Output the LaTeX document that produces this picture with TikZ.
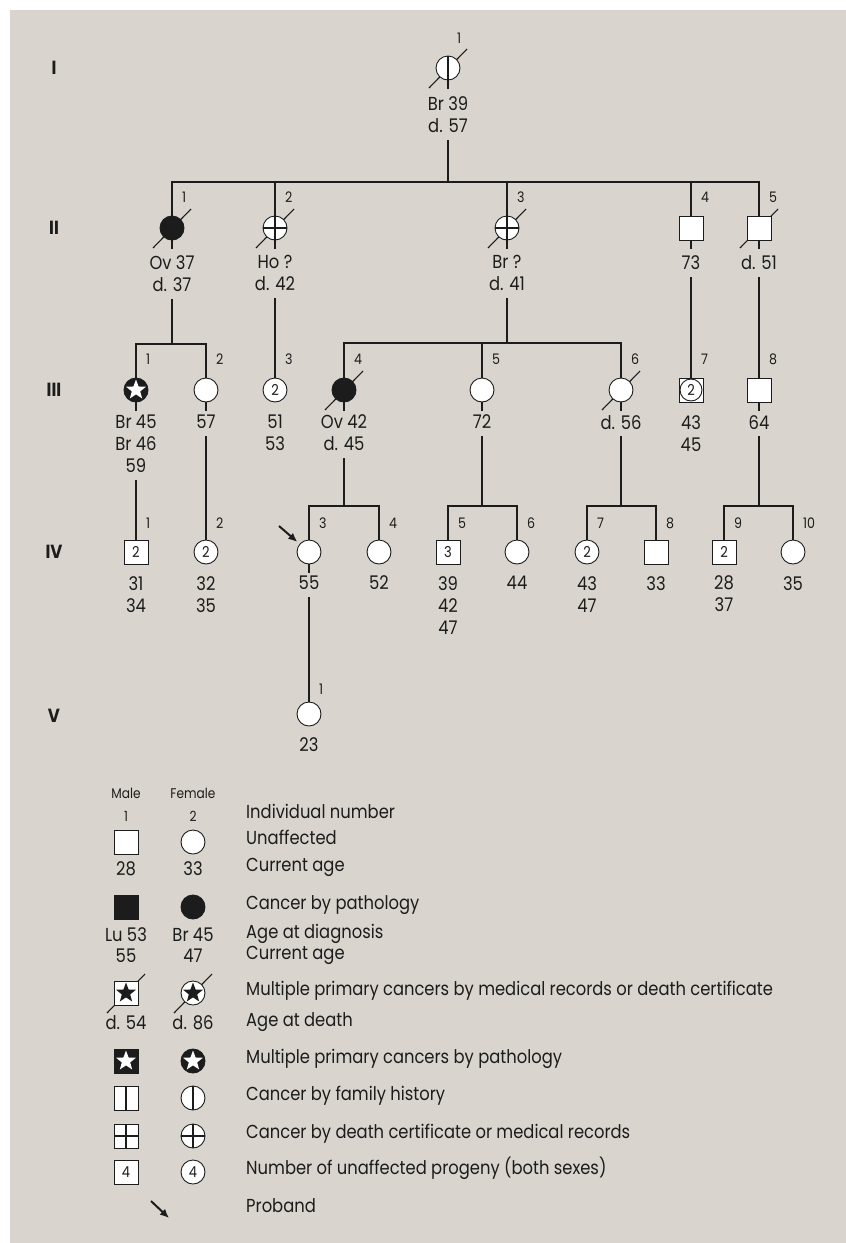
\documentclass[tikz,border=0pt]{standalone}
\usepackage{fontspec}
\setmainfont{Poppins}[FakeStretch=0.87]
\usetikzlibrary{arrows.meta,positioning,calc,shapes.geometric}
\definecolor{paper}{HTML}{D9D5CE}
\definecolor{ink}{HTML}{1C1C1C}
\pgfdeclarelayer{paper}
\pgfdeclarelayer{slash}
\pgfsetlayers{paper,slash,main}

\begin{document}
\begin{tikzpicture}[x=1pt,y=-1pt,font=\fontsize{18.8}{22}\selectfont,text=ink,
male/.style={rectangle,draw=ink,line width=.9pt,fill=white,minimum size=24pt,inner sep=0pt,font=\fontsize{15}{15}\selectfont},
female/.style={circle,draw=ink,line width=.9pt,fill=white,minimum size=24pt,inner sep=0pt,font=\fontsize{15}{15}\selectfont},
aff/.style={fill=ink},
fhist/.style={path picture={\draw[ink,line width=2.3pt] (path picture bounding box.north)--(path picture bounding box.south);}},
dcert/.style={path picture={\draw[ink,line width=2.3pt] (path picture bounding box.north)--(path picture bounding box.south) (path picture bounding box.west)--(path picture bounding box.east);}},
pstar/.style={fill=ink,path picture={\node[star,star points=5,star point ratio=2.4,draw=none,fill=white,inner sep=0pt,minimum size=21pt] at (path picture bounding box.center) {};}},
mstar/.style={path picture={\node[star,star points=5,star point ratio=2.4,draw=none,fill=ink,inner sep=0pt,minimum size=21pt] at (path picture bounding box.center) {};}},
both/.style={path picture={\draw[ink,line width=.9pt] (path picture bounding box.center) circle (11pt);}},
lab/.style={align=center,inner sep=0pt},
num/.style={font=\fontsize{14.5}{15}\selectfont,inner sep=0pt,anchor=west},
hdr/.style={font=\fontsize{14}{15}\selectfont,inner sep=0pt},
gen/.style={font=\fontsize{19}{19}\selectfont\bfseries,inner sep=0pt},
legtxt/.style={anchor=mid west,inner sep=0pt},
kin/.style={draw=ink,line width=1.1pt},
proband/.style={-{Latex[length=9pt,width=8pt]},draw=ink,line width=2pt}]
\useasboundingbox (0,0) rectangle (846,1243);
\begin{pgfonlayer}{paper}
\fill[white] (0,0) rectangle (846,1243);
\fill[paper] (10,10) rectangle (846,1243);
\end{pgfonlayer}

% generation labels
\node[gen] (gI) at (54,68) {I};
\node[gen] (gII) at (54,228) {II};
\node[gen] (gIII) at (54,390) {III};
\node[gen] (gIV) at (54,552) {IV};
\node[gen] (gV) at (54,716) {V};

% generation I
\node[female,fhist] (I1) at (448,68) {};
\node[num] (nI1) at ([shift={(9,-30)}]I1.center) {1};
\node[lab,below=16pt of I1] (I1l) {Br 39\\d. 57};

% generation II
\node[female,aff] (II1) at (172,228) {};
\node[female,dcert] (II2) at (275,228) {};
\node[female,dcert] (II3) at (507,228) {};
\node[male] (II4) at (691,228) {};
\node[male] (II5) at (759,228) {};
\node[num] (nII1) at ([shift={(10,-31)}]II1.center) {1};
\node[num] (nII2) at ([shift={(10,-31)}]II2.center) {2};
\node[num] (nII3) at ([shift={(10,-31)}]II3.center) {3};
\node[num] (nII4) at ([shift={(10,-31)}]II4.center) {4};
\node[num] (nII5) at ([shift={(10,-31)}]II5.center) {5};
\node[lab,below=15pt of II1] (II1l) {Ov 37\\d. 37};
\node[lab,below=15pt of II2] (II2l) {Ho ?\\d. 42};
\node[lab,below=15pt of II3] (II3l) {Br ?\\d. 41};
\node[lab,below=15pt of II4] (II4l) {73};
\node[lab,below=15pt of II5] (II5l) {d. 51};

% generation III
\node[female,pstar] (III1) at (136,390) {};
\node[female] (III2) at (206,390) {};
\node[female] (III3) at (275,390) {2};
\node[female,aff] (III4) at (344,390) {};
\node[female] (III5) at (482,390) {};
\node[female] (III6) at (621,390) {};
\node[male,both] (III7) at (691,390) {2};
\node[male] (III8) at (759,390) {};
\node[num] (nIII1) at ([shift={(10,-31)}]III1.center) {1};
\node[num] (nIII2) at ([shift={(10,-31)}]III2.center) {2};
\node[num] (nIII3) at ([shift={(10,-31)}]III3.center) {3};
\node[num] (nIII4) at ([shift={(10,-31)}]III4.center) {4};
\node[num] (nIII5) at ([shift={(10,-31)}]III5.center) {5};
\node[num] (nIII6) at ([shift={(10,-31)}]III6.center) {6};
\node[num] (nIII7) at ([shift={(10,-31)}]III7.center) {7};
\node[num] (nIII8) at ([shift={(10,-31)}]III8.center) {8};
\node[lab,below=12.5pt of III1] (III1l) {Br 45\\Br 46\\59};
\node[lab,below=12.5pt of III2] (III2l) {57};
\node[lab,below=12.5pt of III3] (III3l) {51\\53};
\node[lab,below=12.5pt of III4] (III4l) {Ov 42\\d. 45};
\node[lab,below=12.5pt of III5] (III5l) {72};
\node[lab,below=12.5pt of III6] (III6l) {d. 56};
\node[lab,below=12.5pt of III7] (III7l) {43\\45};
\node[lab,below=12.5pt of III8] (III8l) {64};

% generation IV
\node[male] (IV1) at (136,552) {2};
\node[female] (IV2) at (206,552) {2};
\node[female] (IV3) at (309,552) {};
\node[female] (IV4) at (379,552) {};
\node[male] (IV5) at (448,552) {3};
\node[female] (IV6) at (517,552) {};
\node[female] (IV7) at (587,552) {2};
\node[male] (IV8) at (656,552) {};
\node[male] (IV9) at (724,552) {2};
\node[female] (IV10) at (793,552) {};
\foreach \i in {1,...,10}
  \node[num] (nIV\i) at ([shift={(10,-29)}]IV\i.center) {\i};
\node[lab,below=11.5pt of IV1] (IV1l) {31\\34};
\node[lab,below=11.5pt of IV2] (IV2l) {32\\35};
\node[lab,below=11.5pt of IV3] (IV3l) {55};
\node[lab,below=11.5pt of IV4] (IV4l) {52};
\node[lab,below=11.5pt of IV5] (IV5l) {39\\42\\47};
\node[lab,below=11.5pt of IV6] (IV6l) {44};
\node[lab,below=11.5pt of IV7] (IV7l) {43\\47};
\node[lab,below=11.5pt of IV8] (IV8l) {33};
\node[lab,below=11.5pt of IV9] (IV9l) {28\\37};
\node[lab,below=11.5pt of IV10] (IV10l) {35};

% generation V
\node[female] (V1) at (309,714) {};
\node[num] (nV1) at ([shift={(10,-25)}]V1.center) {1};
\node[lab,below=10.5pt of V1] (V1l) {23};

% sibship lines
\coordinate (sII) at (448,182);
\coordinate (sIIIa) at (171,344);
\coordinate (sIIIb) at (507,343);
\coordinate (sIVa) at (344,506);
\coordinate (sIVb) at (482,506);
\coordinate (sIVc) at (621,506);
\coordinate (sIVd) at (759,506);

\draw[kin] ([yshift=-7pt]I1l.south) -- (sII);
\draw[kin] (II1) -- (II1 |- sII) -- (II5 |- sII) -- (II5);
\foreach \c in {II2,II3,II4} \draw[kin] (\c) -- (\c |- sII);
\draw[kin] ([yshift=-7pt]II1l.south) -- (II1l.south |- sIIIa);
\draw[kin] (III1) -- (III1 |- sIIIa) -- (III2 |- sIIIa) -- (III2);
\draw[kin] ([yshift=-7pt]II2l.south) -- (III3);
\draw[kin] ([yshift=-7pt]II3l.south) -- (sIIIb);
\draw[kin] (III4) -- (III4 |- sIIIb) -- (III6 |- sIIIb) -- (III6);
\draw[kin] (III5) -- (III5 |- sIIIb);
\draw[kin] ([yshift=-7pt]II4l.south) -- (III7);
\draw[kin] ([yshift=-7pt]II5l.south) -- (III8);
\draw[kin] ([yshift=-7pt]III1l.south) -- (IV1);
\draw[kin] ([yshift=-7pt]III2l.south) -- (IV2);
\draw[kin] ([yshift=-7pt]III4l.south) -- (sIVa);
\draw[kin] (IV3) -- (IV3 |- sIVa) -- (IV4 |- sIVa) -- (IV4);
\draw[kin] ([yshift=-7pt]III5l.south) -- (sIVb);
\draw[kin] (IV5) -- (IV5 |- sIVb) -- (IV6 |- sIVb) -- (IV6);
\draw[kin] ([yshift=-7pt]III6l.south) -- (sIVc);
\draw[kin] (IV7) -- (IV7 |- sIVc) -- (IV8 |- sIVc) -- (IV8);
\draw[kin] ([yshift=-7pt]III8l.south) -- (sIVd);
\draw[kin] (IV9) -- (IV9 |- sIVd) -- (IV10 |- sIVd) -- (IV10);
\draw[kin] ([yshift=-7pt]IV3l.south) -- (V1);
\foreach \p in {I1,II1,II2,II3,II4,II5,III1,III2,III4,III5,III6,III8,IV3}
  \draw[kin] (\p.south) -- ++(0,9);

% proband
\coordinate (pb) at (279,526);
\draw[proband,shorten >=3pt] (pb) -- (IV3);

% legend
\node[hdr] (hM) at (126,793) {Male};
\node[hdr] (hF) at (193,793) {Female};
\node[hdr] (k1M) at (126,816) {1};
\node[hdr] (k1F) at (193,816) {2};
\node[legtxt] (k1T) at (246,816) {Individual number};
\node[male] (LuM) at (126,842) {};
\node[female] (LuF) at (193,842) {};
\node[legtxt] (LuT) at (246,842) {Unaffected};
\node[lab] (k2M) at (126,869) {28};
\node[lab] (k2F) at (193,869) {33};
\node[legtxt] (k2T) at (246,869) {Current age};
\node[male,aff] (LaM) at (126,907) {};
\node[female,aff] (LaF) at (193,907) {};
\node[legtxt] (LaT) at (246,907) {Cancer by pathology};
\node[lab] (k3M) at (126,935) {Lu 53};
\node[lab] (k3F) at (193,935) {Br 45};
\node[legtxt] (k3T) at (246,936) {Age at diagnosis};
\node[lab] (k4M) at (126,956) {55};
\node[lab] (k4F) at (193,956) {47};
\node[legtxt] (k4T) at (246,957) {Current age};
\node[male,mstar] (LmM) at (126,993) {};
\node[female,mstar] (LmF) at (193,993) {};
\node[legtxt] (LmT) at (246,993) {Multiple primary cancers by medical records or death certificate};
\node[lab] (k5M) at (126,1023) {d. 54};
\node[lab] (k5F) at (193,1023) {d. 86};
\node[legtxt] (k5T) at (246,1024) {Age at death};
\node[male,pstar] (LpM) at (126,1061) {};
\node[female,pstar] (LpF) at (193,1061) {};
\node[legtxt] (LpT) at (246,1061) {Multiple primary cancers by pathology};
\node[male,fhist] (LhM) at (126,1098) {};
\node[female,fhist] (LhF) at (193,1098) {};
\node[legtxt] (LhT) at (246,1098) {Cancer by family history};
\node[male,dcert] (LdM) at (126,1136) {};
\node[female,dcert] (LdF) at (193,1136) {};
\node[legtxt] (LdT) at (246,1136) {Cancer by death certificate or medical records};
\node[male] (LnM) at (126,1172) {4};
\node[female] (LnF) at (193,1172) {4};
\node[legtxt] (LnT) at (246,1172) {Number of unaffected progeny (both sexes)};
\coordinate (lpA) at (151,1201);
\coordinate (lpB) at (169,1218);
\draw[proband] (lpA) -- (lpB);
\node[legtxt] (LbT) at (246,1210) {Proband};

% deceased slashes, behind the symbols
\begin{pgfonlayer}{slash}
\foreach \p in {I1,II1,II2,II3,II5,III4,III6,LmM,LmF}
  \draw[kin] ([shift={(-19,20)}]\p.center) -- ([shift={(19,-19)}]\p.center);
\end{pgfonlayer}
\end{tikzpicture}
\end{document}
